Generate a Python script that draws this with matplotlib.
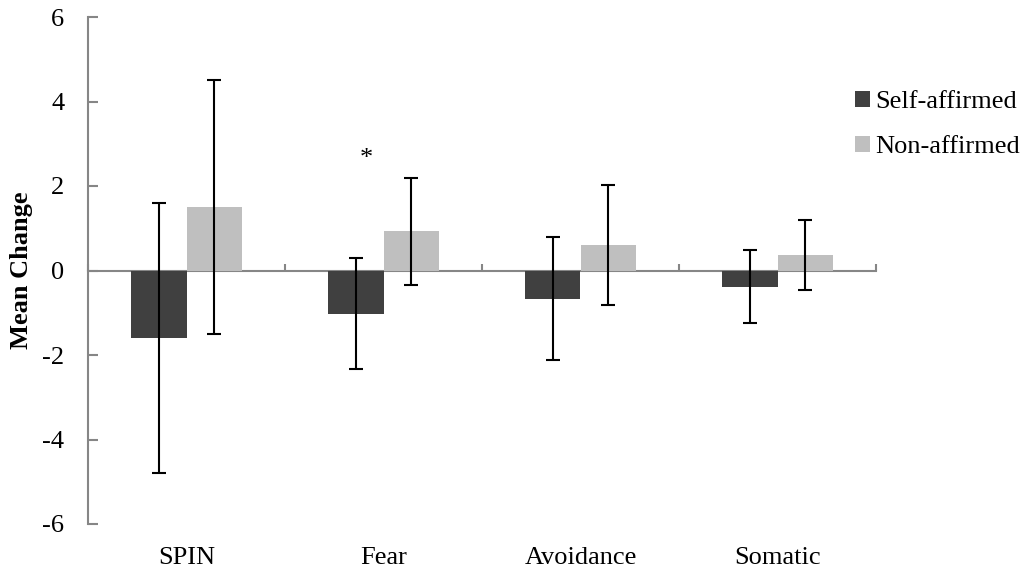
import numpy as np
import matplotlib.pyplot as plt
import matplotlib.transforms as mtransforms

# ===== data =====
categories = ["SPIN", "Fear", "Avoidance", "Somatic"]
self_mean = [-1.60, -1.02, -0.67, -0.38]
self_sd = [3.20, 1.32, 1.46, 0.86]
non_mean = [1.50, 0.93, 0.61, 0.36]
non_sd = [3.00, 1.27, 1.42, 0.83]
series_labels = ["Self-affirmed", "Non-affirmed"]
y_ticks = [-6, -4, -2, 0, 2, 4, 6]
star_pos = (0.915, 2.65)   # asterisk over Fear

plt.rcParams["font.family"] = ["Liberation Serif", "DejaVu Serif"]
FS = 19

fig = plt.figure(figsize=(10.21, 5.72), dpi=100)
ax = fig.add_axes([88 / 1021, 1 - 524 / 572, (876 - 88) / 1021, (524 - 17) / 572])

x = np.arange(len(categories))
w = 0.28
axis_col = "#868686"
ax.bar(x - w / 2, self_mean, w, color="#404040", label=series_labels[0], zorder=2)
ax.bar(x + w / 2, non_mean, w, color="#bfbfbf", label=series_labels[1], zorder=2)
ax.errorbar(x - w / 2, self_mean, yerr=self_sd, fmt="none", ecolor="black",
            elinewidth=1.5, capsize=5, capthick=1.5, zorder=3)
ax.errorbar(x + w / 2, non_mean, yerr=non_sd, fmt="none", ecolor="black",
            elinewidth=1.5, capsize=5, capthick=1.5, zorder=3)

ax.set_xlim(-0.5, len(categories) - 0.5)
ax.set_ylim(-6, 6)
ax.set_yticks(y_ticks)
ax.set_yticklabels([str(t) for t in y_ticks], fontsize=FS)

for s in ["top", "right"]:
    ax.spines[s].set_visible(False)
ax.spines["left"].set_color(axis_col)
ax.spines["left"].set_linewidth(1.5)
ax.spines["bottom"].set_position(("data", 0))
ax.spines["bottom"].set_color(axis_col)
ax.spines["bottom"].set_linewidth(1.5)
ax.spines["bottom"].set_zorder(1)

ax.tick_params(axis="y", direction="in", length=7, width=1.5, color=axis_col, pad=17)
ax.set_xticks(x)
ax.set_xticklabels([])
ax.tick_params(axis="x", which="major", length=0)
ax.set_xticks(np.arange(len(categories) + 1) - 0.5, minor=True)
ax.tick_params(axis="x", which="minor", direction="in", length=5, width=1.5, color=axis_col)

trans = mtransforms.blended_transform_factory(ax.transData, ax.transAxes)
for i, c in enumerate(categories):
    ax.text(i, -0.067, c, transform=trans, ha="center", va="center", fontsize=FS)

ax.text(star_pos[0], star_pos[1], "*", ha="center", va="center", fontsize=FS)

ax.set_ylabel("Mean Change", fontsize=FS, fontweight="bold")
ax.yaxis.set_label_coords(-0.07, 0.5)

fig.legend(loc="upper left", bbox_to_anchor=(842 / 1021, 1 - 78 / 572), frameon=False,
           fontsize=FS, handlelength=0.55, handleheight=0.55, handletextpad=0.2,
           labelspacing=0.85, borderpad=0)

fig.savefig("out.png", dpi=100)
